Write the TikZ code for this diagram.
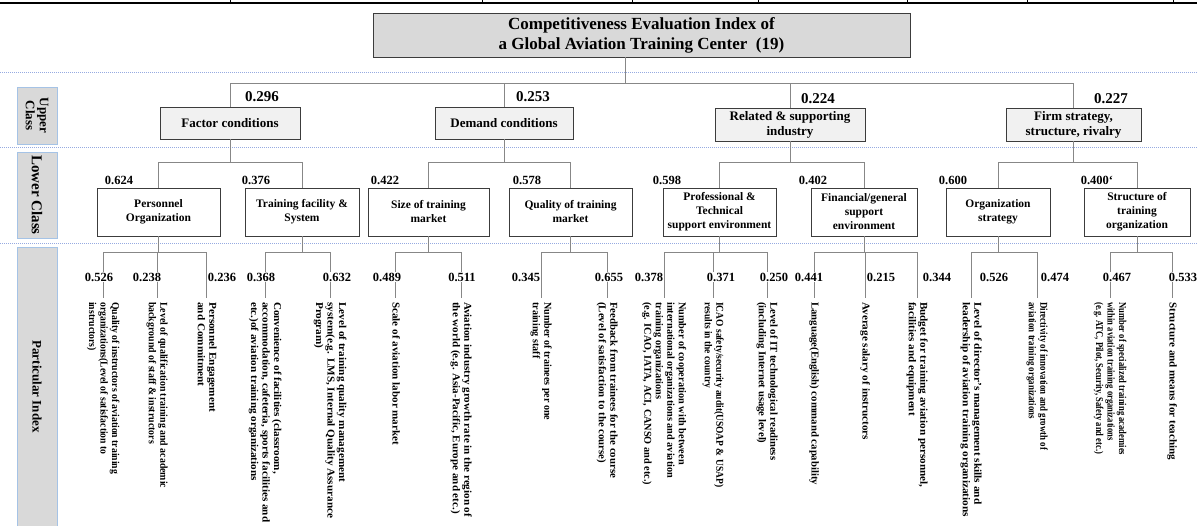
\documentclass[tikz,border=0pt]{standalone}
\usepackage{fontspec}
\setmainfont{Liberation Serif}
\usepackage{graphicx}

\definecolor{dotblue}{RGB}{150,170,225}
\definecolor{lblfill}{RGB}{217,217,217}
\definecolor{lbledge}{RGB}{165,195,230}
\definecolor{linegray}{RGB}{135,135,135}
\definecolor{boxedge}{RGB}{60,60,60}
\definecolor{upfill}{RGB}{241,241,241}

\tikzstyle{titlebox} = [rectangle, draw=boxedge, fill=lblfill, minimum width=537pt, minimum height=44pt, align=center, inner sep=0pt, font=\bfseries\fontsize{17}{20}\selectfont]
\tikzstyle{upbox} = [rectangle, draw=boxedge, fill=upfill, minimum height=32pt, align=center, inner sep=0pt, font=\bfseries\fontsize{13}{15}\selectfont]
\tikzstyle{lowbox} = [rectangle, draw=boxedge, fill=white, minimum height=48pt, align=center, inner sep=0pt, font=\bfseries\fontsize{11.5}{14}\selectfont]
\tikzstyle{sidebox} = [rectangle, draw=lbledge, fill=lblfill, rotate=-90, minimum height=40pt, align=center, inner sep=0pt]
\tikzstyle{upw} = [inner sep=0pt, font=\bfseries\fontsize{15}{15}\selectfont]
\tikzstyle{loww} = [inner sep=0pt, font=\bfseries\fontsize{12.5}{12.5}\selectfont]
\tikzstyle{pw} = [fill=white, inner sep=1pt, font=\bfseries\fontsize{12.5}{12.5}\selectfont]
\tikzstyle{ptxt} = [rotate=-90, anchor=west, inner sep=0pt, font=\bfseries\fontsize{10.5}{11.5}\selectfont]
\tikzstyle{conn} = [draw=linegray, line width=1pt]
\tikzstyle{sepline} = [draw=dotblue, line width=1pt, dash pattern=on 1pt off 1pt]

\newcommand{\ptext}[2]{\resizebox{#1pt}{\height}{\begin{tabular}{@{}l@{}}#2\end{tabular}}}

\begin{document}
\begin{tikzpicture}[x=1pt, y=1pt]
\useasboundingbox (0,0) rectangle (1197,-525);

%Separators
\draw [sepline] (0,-72) -- (1197,-72);
\draw [sepline] (0,-147) -- (1197,-147);
\draw [sepline] (0,-243) -- (1197,-243);
\draw [line width=2.5pt] (0,-3) -- (1197,-3);
\foreach \tx in {230,482,632,758,907,1027,1173}
  \draw [line width=0.6pt] (\tx,0) -- (\tx,-3);

%Side labels
\node (upcls) [sidebox, minimum width=57pt, font=\bfseries\fontsize{13}{14}\selectfont] at (37,-115.5) {Upper\\Class};
\node (lowcls) [sidebox, minimum width=86pt, font=\bfseries\fontsize{15}{15}\selectfont] at (37,-195) {Lower Class};
\node (partcls) [sidebox, minimum width=279pt, font=\bfseries\fontsize{13}{13}\selectfont] at (37,-386.5) {Particular Index};

%Custom blocks
\node (title) [titlebox] at (641.5,-35) {Competitiveness Evaluation Index of\\a Global Aviation Training Center~~(19)};

\node (fac) [upbox, minimum width=140pt] at (230,-123) {Factor conditions};
\node (dem) [upbox, minimum width=138pt] at (504,-123) {Demand conditions};
\node (rel) [upbox, minimum width=150pt, minimum height=33pt] at (790,-124.5) {Related \& supporting\\industry};
\node (firm) [upbox, minimum width=135pt, minimum height=33pt] at (1073.5,-124.5) {Firm strategy,\\structure, rivalry};

\node (pers) [lowbox, minimum width=123pt] at (158.5,-212) {Personnel\\Organization};
\node (trn) [lowbox, minimum width=114pt] at (302,-212) {Training facility \&\\System};
\node (size) [lowbox, minimum width=121pt] at (428.5,-212) {Size of training\\market};
\node (qual) [lowbox, minimum width=123pt] at (570.5,-212) {Quality of training\\market};
\node (prof) [lowbox, minimum width=113pt] at (719.5,-212) {Professional \&\\Technical\\support environment};
\node (fin) [lowbox, minimum width=106pt] at (864,-212) {Financial/general\\support\\environment};
\node (org) [lowbox, minimum width=104pt] at (998,-212) {Organization\\strategy};
\node (struc) [lowbox, minimum width=106pt] at (1137,-212) {Structure of\\training\\organization};

%Particular index
\node (q1) [ptxt] at (103,-302) {\ptext{172}{Quality of instructors of aviation training\\organizations(Level of satisfaction to\\instructors)}};
\node (q2) [ptxt] at (157,-302) {\ptext{186}{Level of qualification training and academic\\background of staff \& instructors}};
\node (q3) [ptxt] at (206,-302) {\ptext{110}{Personnel Engagement\\and Commitment}};
\node (q4) [ptxt] at (265,-302) {\ptext{220}{Convenience of facilities (classroom,\\accommodation, cafeteria, sports facilities and\\etc.)of aviation training organizations}};
\node (q5) [ptxt] at (330,-302) {\ptext{216}{Level of training quality management\\system(e.g. LMS, Internal Quality Assurance\\Program)}};
\node (q6) [ptxt] at (395,-302) {\ptext{143}{Scale of aviation labor market}};
\node (q7) [ptxt] at (461,-302) {\ptext{215}{Aviation industry growth rate in the region of\\the world (e.g. Asia-Pacific, Europe and etc.)}};
\node (q8) [ptxt] at (541,-302) {\ptext{118}{Number of trainees per one\\training staff}};
\node (q9) [ptxt] at (607,-302) {\ptext{176}{Feedback from trainees for the course\\(Level of satisfaction to the course)}};
\node (q10) [ptxt] at (664,-302) {\ptext{183}{Number of cooperation with between\\international organizations and aviation\\training organizations\\(e.g. ICAO, IATA, ACI, CANSO and etc.)}};
\node (q11) [ptxt] at (713,-302) {\ptext{185}{ICAO safety/security audit(USOAP \& USAP)\\results in the country}};
\node (q12) [ptxt] at (767,-302) {\ptext{158}{Level of IT technological readiness\\(including Internet usage level)}};
\node (q13) [ptxt] at (814,-302) {\ptext{183}{Language(English) command capability}};
\node (q14) [ptxt] at (865,-302) {\ptext{138}{Average salary of instructors}};
\node (q15) [ptxt] at (917,-302) {\ptext{185}{Budget for training aviation personnel,\\facilities and equipment}};
\node (q16) [ptxt] at (971,-302) {\ptext{215}{Level of director's management skills and\\leadership of aviation training organizations}};
\node (q17) [ptxt] at (1037,-302) {\ptext{148}{Directivity of innovation and growth of\\aviation training organizations}};
\node (q18) [ptxt] at (1110,-302) {\ptext{153}{Number of specialized training academies\\within aviation training organizations\\(e.g. ATC, Pilot, Security, Safety and etc.)}};
\node (q19) [ptxt] at (1172,-302) {\ptext{158}{Structure and means for teaching}};

%Arrows
\coordinate (ubus) at (0,-83);
\coordinate (lbus) at (0,-162);
\coordinate (pbus) at (0,-252);

\draw [conn] ([xshift=-16pt]title.south) -- ([xshift=-16pt]title.south |- ubus);
\draw [conn] (fac.north |- ubus) -- (firm.north |- ubus);
\draw [conn] (fac.north |- ubus) -- (fac.north);
\draw [conn] (dem.north |- ubus) -- (dem.north);
\draw [conn] (rel.north |- ubus) -- (rel.north);
\draw [conn] (firm.north |- ubus) -- (firm.north);

\draw [conn] (fac.south) -- (fac.south |- lbus);
\draw [conn] (dem.south) -- (dem.south |- lbus);
\draw [conn] (rel.south) -- (rel.south |- lbus);
\draw [conn] (firm.south) -- (firm.south |- lbus);
\draw [conn] (pers.north) -- (pers.north |- lbus) -- (trn.north |- lbus) -- (trn.north);
\draw [conn] (size.north) -- (size.north |- lbus) -- (qual.north |- lbus) -- (qual.north);
\draw [conn] (prof.north) -- (prof.north |- lbus) -- (fin.north |- lbus) -- (fin.north);
\draw [conn] (org.north) -- (org.north |- lbus) -- (struc.north |- lbus) -- (struc.north);

\draw [conn] (pers.south) -- (pers.south |- pbus);
\draw [conn] (trn.south) -- (trn.south |- pbus);
\draw [conn] (size.south) -- (size.south |- pbus);
\draw [conn] (qual.south) -- (qual.south |- pbus);
\draw [conn] (prof.south) -- (prof.south |- pbus);
\draw [conn] (fin.south) -- (fin.south |- pbus);
\draw [conn] (org.south) -- (org.south |- pbus);
\draw [conn] (struc.south) -- (struc.south |- pbus);

\draw [conn] (q1.west |- pbus) -- (q3.west |- pbus);
\draw [conn] (q4.west |- pbus) -- (q5.west |- pbus);
\draw [conn] (q6.west |- pbus) -- (q7.west |- pbus);
\draw [conn] (q8.west |- pbus) -- (q9.west |- pbus);
\draw [conn] (q10.west |- pbus) -- (q12.west |- pbus);
\draw [conn] (q13.west |- pbus) -- (q15.west |- pbus);
\draw [conn] (q16.west |- pbus) -- (q17.west |- pbus);
\draw [conn] (q18.west |- pbus) -- (q19.west |- pbus);
\foreach \q in {q1,q2,q3,q4,q5,q6,q7,q8,q9,q10,q11,q12,q13,q14,q15,q16,q17,q18,q19}
  \draw [conn] (\q.west |- pbus) -- ([yshift=4pt]\q.west);

%Weights
\node (wfac) [upw] at (262,-97) {0.296};
\node (wdem) [upw] at (533,-97) {0.253};
\node (wrel) [upw] at (818,-99) {0.224};
\node (wfirm) [upw] at (1111,-99) {0.227};

\node (wpers) [loww] at (119,-180) {0.624};
\node (wtrn) [loww] at (256,-180) {0.376};
\node (wsize) [loww] at (385,-180) {0.422};
\node (wqual) [loww] at (527,-180) {0.578};
\node (wprof) [loww] at (667,-180) {0.598};
\node (wfin) [loww] at (813,-180) {0.402};
\node (worg) [loww] at (953,-180) {0.600};
\node (wstruc) [loww] at (1097,-180) {0.400`};

\node (w1) [pw] at (99,-277) {0.526};
\node (w2) [pw] at (147,-277) {0.238};
\node (w3) [pw] at (222,-277) {0.236};
\node (w4) [pw] at (261,-277) {0.368};
\node (w5) [pw] at (337,-277) {0.632};
\node (w6) [pw] at (387,-277) {0.489};
\node (w7) [pw] at (462,-277) {0.511};
\node (w8) [pw] at (526,-277) {0.345};
\node (w9) [pw] at (609,-277) {0.655};
\node (w10) [pw] at (649,-277) {0.378};
\node (w11) [pw] at (721,-277) {0.371};
\node (w12) [pw] at (774,-277) {0.250};
\node (w13) [pw] at (809,-277) {0.441};
\node (w14) [pw] at (881,-277) {0.215};
\node (w15) [pw] at (937,-277) {0.344};
\node (w16) [pw] at (994,-277) {0.526};
\node (w17) [pw] at (1055,-277) {0.474};
\node (w18) [pw] at (1117,-277) {0.467};
\node (w19) [pw] at (1183,-277) {0.533};
\end{tikzpicture}
\end{document}
